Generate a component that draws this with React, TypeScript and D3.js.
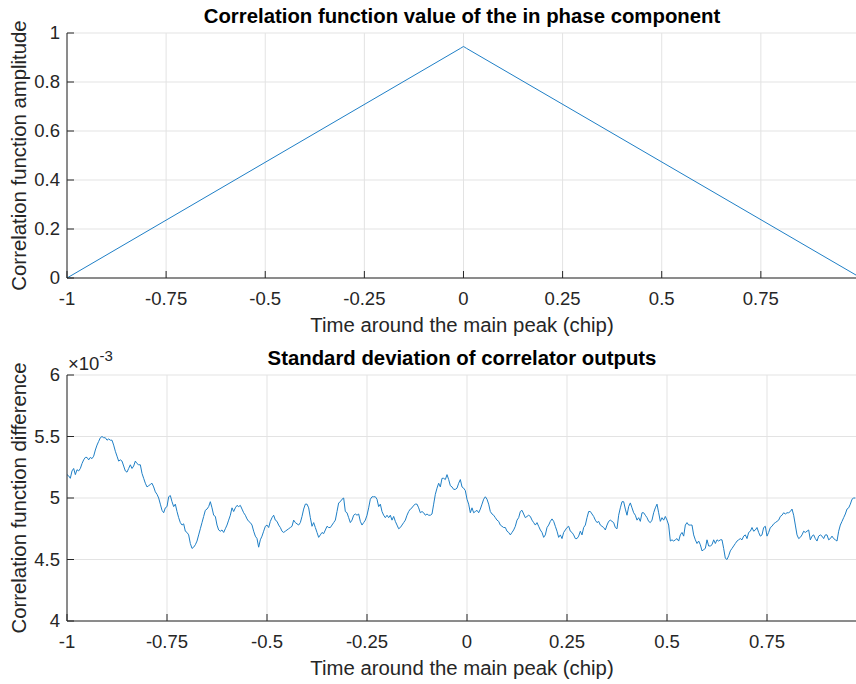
import React from "react";
import * as d3 from "d3";

const W = 856;
const H = 684;

// Top panel: correlation function (in-phase)
const TOP_X = [-1, -0.008, 0, 0.008, 0.99];
const TOP_Y = [0, 0.937, 0.945, 0.937, 0.012];

// Bottom panel: standard deviation of correlator outputs (values in units of 1e-3)
const STD_X_START = -1;
const STD_X_STEP = 1 / 240;
const STD_VALUES = [
  5.19, 5.18, 5.16, 5.22, 5.24, 5.19, 5.23, 5.22, 5.24, 5.28,
  5.31, 5.33, 5.33, 5.31, 5.33, 5.32, 5.34, 5.39, 5.43, 5.46,
  5.49, 5.50, 5.49, 5.49, 5.47, 5.48, 5.47, 5.47, 5.43, 5.38,
  5.34, 5.30, 5.31, 5.30, 5.26, 5.22, 5.21, 5.24, 5.27, 5.24,
  5.26, 5.30, 5.28, 5.27, 5.27, 5.20, 5.16, 5.12, 5.09, 5.10,
  5.11, 5.12, 5.09, 5.05, 5.03, 5.00, 4.95, 4.90, 4.88, 4.92,
  4.93, 5.01, 5.02, 4.97, 4.93, 4.95, 4.89, 4.84, 4.80, 4.78,
  4.79, 4.73, 4.72, 4.70, 4.63, 4.59, 4.60, 4.62, 4.65, 4.70,
  4.75, 4.80, 4.85, 4.90, 4.91, 4.93, 4.97, 4.92, 4.86, 4.85,
  4.78, 4.74, 4.73, 4.74, 4.72, 4.75, 4.78, 4.82, 4.86, 4.92,
  4.89, 4.92, 4.94, 4.93, 4.94, 4.91, 4.88, 4.86, 4.83, 4.81,
  4.80, 4.78, 4.73, 4.69, 4.67, 4.60, 4.66, 4.69, 4.73, 4.77,
  4.78,
  4.76, 4.81, 4.84, 4.86, 4.82, 4.81, 4.78, 4.76, 4.73, 4.72,
  4.73, 4.74, 4.75, 4.76, 4.77, 4.82, 4.80, 4.79, 4.78, 4.80,
  4.85, 4.91, 4.95, 4.95, 4.92, 4.84, 4.77, 4.80, 4.76, 4.72,
  4.68, 4.70, 4.72, 4.71, 4.74, 4.77, 4.76, 4.76, 4.78, 4.80,
  4.82, 4.89, 4.96, 4.97, 4.99, 5.00, 4.89, 4.88, 4.84, 4.80,
  4.82, 4.86, 4.87, 4.86, 4.87, 4.81, 4.78, 4.80, 4.82, 4.86,
  4.92, 4.99, 5.01, 5.01, 5.01, 4.99, 4.93, 4.95, 4.89, 4.86,
  4.84, 4.86, 4.84, 4.86, 4.82, 4.85, 4.81, 4.78, 4.75, 4.76,
  4.78, 4.80, 4.82, 4.86, 4.89, 4.91, 4.92, 4.94, 4.95, 4.95,
  4.92, 4.88, 4.89, 4.88, 4.86, 4.87, 4.86, 4.86, 4.87, 4.95,
  5.03, 5.08, 5.12, 5.09, 5.16, 5.16, 5.15, 5.19, 5.15, 5.10,
  5.09, 5.07, 5.07, 5.08, 5.12, 5.15, 5.09, 5.08, 5.06, 4.99,
  4.95, 4.88, 4.92, 4.88, 4.89, 4.90, 4.88, 4.91, 4.95, 4.99,
  5.01, 4.99, 4.95, 4.89, 4.87, 4.86, 4.84, 4.82, 4.81, 4.78,
  4.77, 4.76, 4.76, 4.73, 4.72, 4.70, 4.72, 4.74, 4.77, 4.82,
  4.84, 4.89, 4.90, 4.87, 4.84, 4.85, 4.86, 4.85, 4.82, 4.80,
  4.78, 4.80, 4.77, 4.74, 4.72, 4.68, 4.70, 4.76, 4.78, 4.81,
  4.83, 4.81, 4.77, 4.73, 4.68, 4.70, 4.67, 4.72, 4.74, 4.76,
  4.77, 4.73, 4.72, 4.70, 4.67, 4.67, 4.69, 4.73, 4.70, 4.76,
  4.78, 4.84, 4.89, 4.89, 4.87, 4.85, 4.82, 4.80, 4.81, 4.78,
  4.77, 4.76, 4.74, 4.78, 4.81, 4.82, 4.81, 4.80, 4.76, 4.75,
  4.86, 4.92, 4.97, 4.97, 4.91, 4.86, 4.93, 4.96, 4.92, 4.88,
  4.86, 4.82, 4.84, 4.81, 4.88, 4.88, 4.86, 4.84, 4.81, 4.80,
  4.82, 4.88, 4.92, 4.95, 4.88, 4.81, 4.84, 4.82, 4.85, 4.82,
  4.78, 4.65, 4.66, 4.65, 4.66, 4.67, 4.65, 4.70, 4.72, 4.69,
  4.78, 4.80, 4.78, 4.78, 4.78, 4.70, 4.66, 4.63, 4.65, 4.62,
  4.57, 4.58, 4.59, 4.66, 4.61, 4.61, 4.62, 4.66, 4.63, 4.66,
  4.65, 4.66, 4.66, 4.59, 4.51, 4.50, 4.53, 4.57, 4.59, 4.61,
  4.63, 4.65, 4.66, 4.67, 4.66, 4.69, 4.70, 4.67, 4.72, 4.73,
  4.76, 4.73, 4.74, 4.76, 4.72, 4.69, 4.70, 4.76, 4.77, 4.69,
  4.72, 4.76, 4.77, 4.79, 4.80, 4.81, 4.82, 4.85, 4.86, 4.88,
  4.87, 4.88, 4.88, 4.89, 4.91, 4.86, 4.78, 4.70, 4.67, 4.68,
  4.70, 4.73, 4.72, 4.73, 4.74, 4.66, 4.69, 4.70, 4.67, 4.65,
  4.69, 4.70, 4.69, 4.67, 4.70, 4.70, 4.66, 4.67, 4.69, 4.67,
  4.66, 4.65, 4.73, 4.78, 4.81, 4.84, 4.87, 4.91, 4.92, 4.95,
  4.99, 5.00, 5.00,
];

const X_TICKS = [-1, -0.75, -0.5, -0.25, 0, 0.25, 0.5, 0.75];
const X_TICK_LABELS = ["-1", "-0.75", "-0.5", "-0.25", "0", "0.25", "0.5", "0.75"];
const TOP_Y_TICKS = [0, 0.2, 0.4, 0.6, 0.8, 1];
const TOP_Y_TICK_LABELS = ["0", "0.2", "0.4", "0.6", "0.8", "1"];
const BOT_Y_TICKS = [4, 4.5, 5, 5.5, 6];
const BOT_Y_TICK_LABELS = ["4", "4.5", "5", "5.5", "6"];

const TITLES = [
  "Correlation function value of the in phase component",
  "Standard deviation of correlator outputs",
];
const X_LABEL = "Time around the main peak (chip)";
const Y_LABELS = ["Correlation function amplitude", "Correlation function difference"];

const FONT = "'Liberation Sans', Arial, Helvetica, sans-serif";
const AX = "#262626";
const GRID = "#e3e3e3";
const LINE = "#1f7fc6";
const TICK_FS = 18.5;
const LABEL_FS = 20.35;

type PanelProps = {
  left: number; right: number; top: number; bottom: number;
  xDomain: [number, number]; yDomain: [number, number];
  yTicks: number[]; yTickLabels: string[];
  data: [number, number][];
  title: string; yLabel: string;
  exponent?: boolean;
};

function Panel(p: PanelProps) {
  const x = d3.scaleLinear().domain(p.xDomain).range([p.left, p.right]);
  const y = d3.scaleLinear().domain(p.yDomain).range([p.bottom, p.top]);
  const line = d3.line<[number, number]>().x((d) => x(d[0])).y((d) => y(d[1]));
  const cx = 462;
  const tick = 7;
  return (
    <g>
      {X_TICKS.map((t) => (
        <line key={"gx" + t} x1={x(t)} x2={x(t)} y1={p.top} y2={p.bottom} stroke={GRID} strokeWidth={1} />
      ))}
      {p.yTicks.map((t) => (
        <line key={"gy" + t} x1={p.left} x2={p.right} y1={y(t)} y2={y(t)} stroke={GRID} strokeWidth={1} />
      ))}
      <path d={line(p.data) || ""} fill="none" stroke={LINE} strokeWidth={1} strokeLinejoin="round" />
      <line x1={p.left} x2={p.left} y1={p.top} y2={p.bottom} stroke={AX} strokeWidth={1} />
      <line x1={p.left} x2={p.right} y1={p.bottom} y2={p.bottom} stroke={AX} strokeWidth={1} />
      {X_TICKS.map((t, i) => (
        <g key={"xt" + t}>
          <line x1={x(t)} x2={x(t)} y1={p.bottom} y2={p.bottom - tick} stroke={AX} strokeWidth={1} />
          <text x={x(t)} y={p.bottom + 27} textAnchor="middle" fontSize={TICK_FS} fill={AX} fontFamily={FONT}>
            {X_TICK_LABELS[i]}
          </text>
        </g>
      ))}
      {p.yTicks.map((t, i) => (
        <g key={"yt" + t}>
          <line x1={p.left} x2={p.left + tick} y1={y(t)} y2={y(t)} stroke={AX} strokeWidth={1} />
          <text x={p.left - 7} y={y(t)} dy="0.35em" textAnchor="end" fontSize={TICK_FS} fill={AX} fontFamily={FONT}>
            {p.yTickLabels[i]}
          </text>
        </g>
      ))}
      <text x={cx} y={p.top - 10} textAnchor="middle" fontSize={LABEL_FS} fontWeight="bold" fill="#000" fontFamily={FONT}>
        {p.title}
      </text>
      <text x={cx} y={p.bottom + 54} textAnchor="middle" fontSize={LABEL_FS} fill={AX} fontFamily={FONT}>
        {X_LABEL}
      </text>
      <text
        transform={`translate(26,${(p.top + p.bottom) / 2}) rotate(-90)`}
        textAnchor="middle"
        fontSize={LABEL_FS}
        fill={AX}
        fontFamily={FONT}
      >
        {p.yLabel}
      </text>
      {p.exponent && (
        <text x={p.left + 1} y={p.top - 5} fontSize={TICK_FS} fill={AX} fontFamily={FONT}>
          ×10<tspan dy={-9} fontSize={15}>-3</tspan>
        </text>
      )}
    </g>
  );
}

export default function App() {
  const topData: [number, number][] = TOP_X.map((v, i) => [v, TOP_Y[i]]);
  const botData: [number, number][] = STD_VALUES.map((v, i) => [STD_X_START + i * STD_X_STEP, v]);
  return (
    <svg
      width={W}
      height={H}
      style={{ position: "absolute", left: 0, top: 0, background: "#fff" }}
    >
      <rect width={W} height={H} fill="#fff" />
      <Panel
        left={67} right={856} top={33} bottom={278}
        xDomain={[-1, 0.99]} yDomain={[0, 1]}
        yTicks={TOP_Y_TICKS} yTickLabels={TOP_Y_TICK_LABELS}
        data={topData} title={TITLES[0]} yLabel={Y_LABELS[0]}
      />
      <Panel
        left={67} right={856} top={375} bottom={621}
        xDomain={[-1, 0.9725]} yDomain={[4, 6]}
        yTicks={BOT_Y_TICKS} yTickLabels={BOT_Y_TICK_LABELS}
        data={botData} title={TITLES[1]} yLabel={Y_LABELS[1]}
        exponent
      />
    </svg>
  );
}
